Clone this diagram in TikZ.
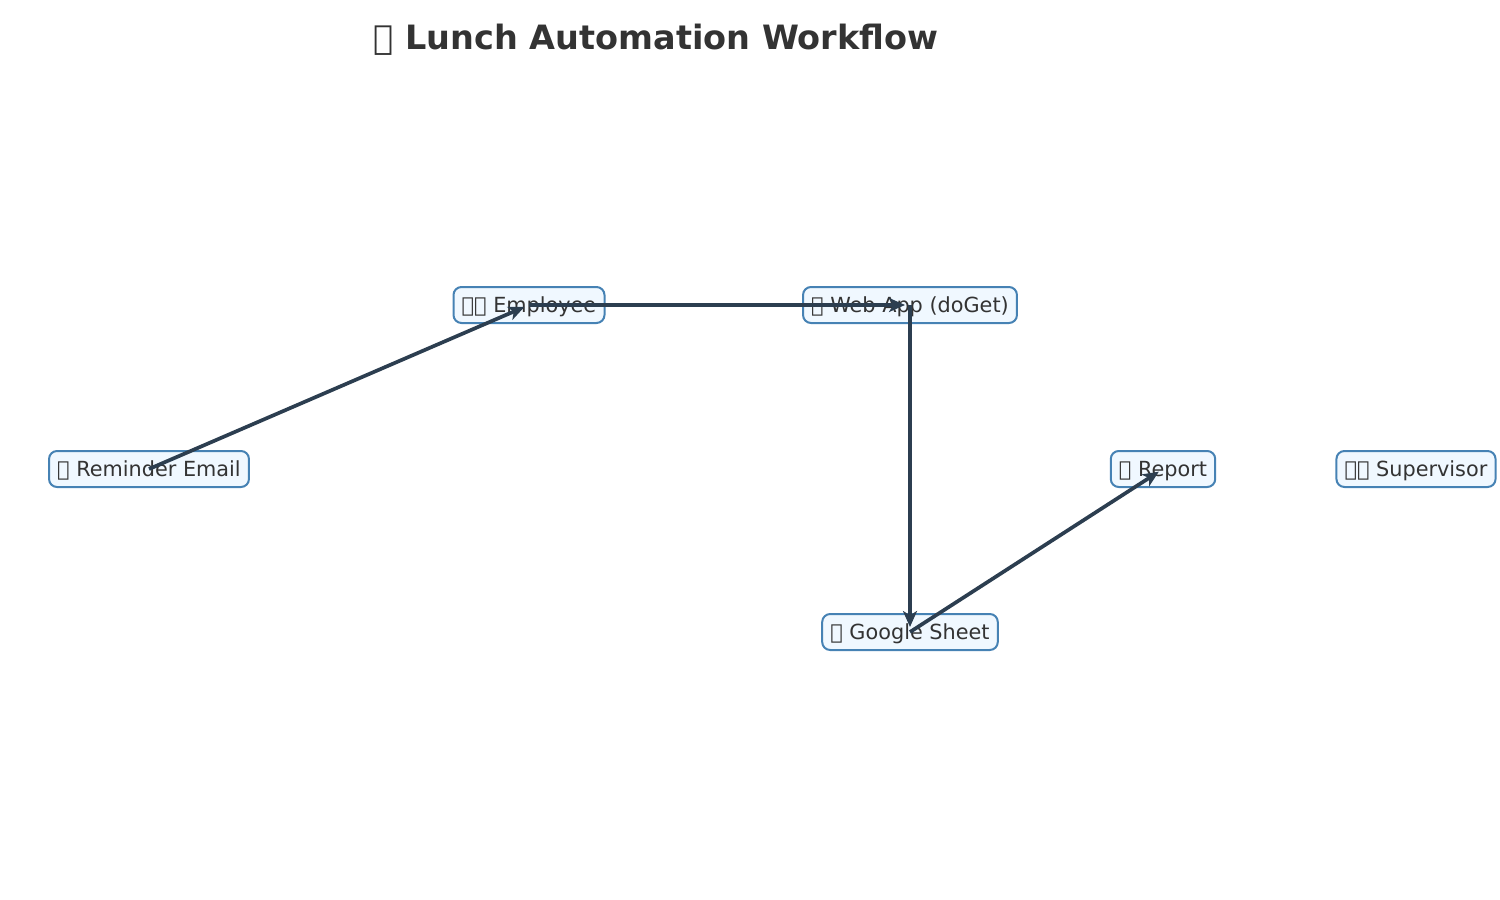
\documentclass[tikz,border=0pt]{standalone}
\usepackage{fontspec}
\setmainfont{DejaVu Sans}
\usetikzlibrary{arrows.meta}
\definecolor{boxfill}{HTML}{F0F8FF}
\definecolor{boxline}{HTML}{4682B4}
\definecolor{arrowcol}{HTML}{2C3E50}
\definecolor{txt}{HTML}{333333}
\newcommand{\tofu}{\XeTeXglyph0}
\tikzset{
  flowbox/.style={draw=boxline, fill=boxfill, line width=1pt, rounded corners=4pt,
    text=txt, inner xsep=4.1pt, inner ysep=0pt, minimum height=18pt,
    text height=10pt, text depth=2.5pt,
    font=\fontsize{10.4}{12}\selectfont},
  flowarrow/.style={draw=arrowcol, line width=1.85pt, -{Stealth[length=8pt,width=7pt,inset=2.2pt]}, shorten >=2.5pt},
  titletext/.style={text=txt, font=\fontsize{16.75}{20}\selectfont\bfseries}
}
\begin{document}
\begin{tikzpicture}[x=0.5pt,y=-0.5pt]
\useasboundingbox (0,0) rectangle (1500,900);
\node[titletext] (title) at (656,40) {\tofu\ Lunch Automation Workflow};
\node[flowbox] (emp) at (529,305) {\tofu\tofu\ Employee};
\node[flowbox] (web) at (910,305) {\tofu\ Web App (doGet)};
\node[flowbox] (mail) at (149,469) {\tofu\ Reminder Email};
\node[flowbox] (rep) at (1163,469) {\tofu\ Report};
\node[flowbox] (sup) at (1416,469) {\tofu\tofu\ Supervisor};
\node[flowbox] (sheet) at (910,632) {\tofu\ Google Sheet};
\draw[flowarrow] (mail.center) -- (emp.center);
\draw[flowarrow] (emp.center) -- (web.center);
\draw[flowarrow] (web.center) -- (sheet.center);
\draw[flowarrow] (sheet.center) -- (rep.center);
\end{tikzpicture}
\end{document}
